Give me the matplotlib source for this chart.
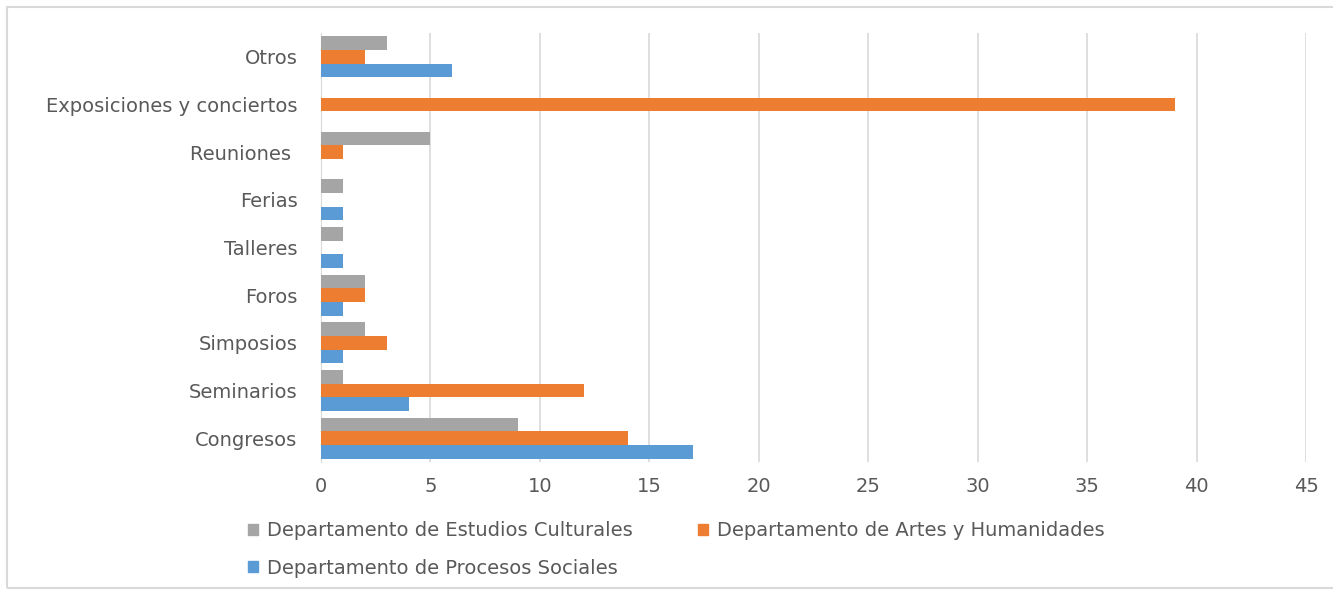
import matplotlib.pyplot as plt
import numpy as np
from matplotlib.patches import Rectangle, Patch

categories = ["Congresos", "Seminarios", "Simposios", "Foros", "Talleres",
              "Ferias", "Reuniones ", "Exposiciones y conciertos", "Otros"]
estudios_culturales = [9, 1, 2, 2, 1, 1, 5, 0, 3]
artes_humanidades = [14, 12, 3, 2, 0, 0, 1, 39, 2]
procesos_sociales = [17, 4, 1, 1, 1, 1, 0, 0, 6]

labels = ["Departamento de Estudios Culturales",
          "Departamento de Artes y Humanidades",
          "Departamento de Procesos Sociales"]
colors = ["#A5A5A5", "#ED7D31", "#5B9BD5"]

plt.rcParams['font.family'] = ['DejaVu Sans']

fig = plt.figure(figsize=(13.33, 5.92), dpi=100)
ax = fig.add_axes([0.2408, 0.2196, 0.7392, 0.7248])

y = np.arange(len(categories))
h = 0.285
ax.barh(y + h, estudios_culturales, height=h, color=colors[0], zorder=3)
ax.barh(y, artes_humanidades, height=h, color=colors[1], zorder=3)
ax.barh(y - h, procesos_sociales, height=h, color=colors[2], zorder=3)

ax.set_xlim(0, 45)
ax.set_ylim(-0.5, len(categories) - 0.5)
ax.set_xticks(range(0, 46, 5))
ax.set_yticks(y)
ax.set_yticklabels(categories)
ax.tick_params(axis='both', length=0, labelsize=14, labelcolor="#595959")
ax.tick_params(axis='y', pad=17)
ax.tick_params(axis='x', pad=11)
ax.grid(axis='x', color="#D9D9D9", linewidth=1.2, zorder=0)
for s in ["top", "right", "bottom"]:
    ax.spines[s].set_visible(False)
ax.spines["left"].set_color("#D9D9D9")

handles = [Patch(color=colors[0], label=labels[0]),
           Patch(color=colors[2], label=labels[2]),
           Patch(color=colors[1], label=labels[1])]
fig.legend(handles=handles, ncol=2, loc="upper left", bbox_to_anchor=(0.173, 0.149),
           frameon=False, fontsize=14, labelcolor="#595959",
           handlelength=0.5, handleheight=0.5, handletextpad=0.45,
           columnspacing=3.4, labelspacing=0.95)

fig.patches.append(Rectangle((0.005, 0.007), 1.2, 0.981, transform=fig.transFigure,
                             fill=False, edgecolor="#D9D9D9", linewidth=1.5))

fig.savefig("out.png", dpi=100, facecolor="white")
